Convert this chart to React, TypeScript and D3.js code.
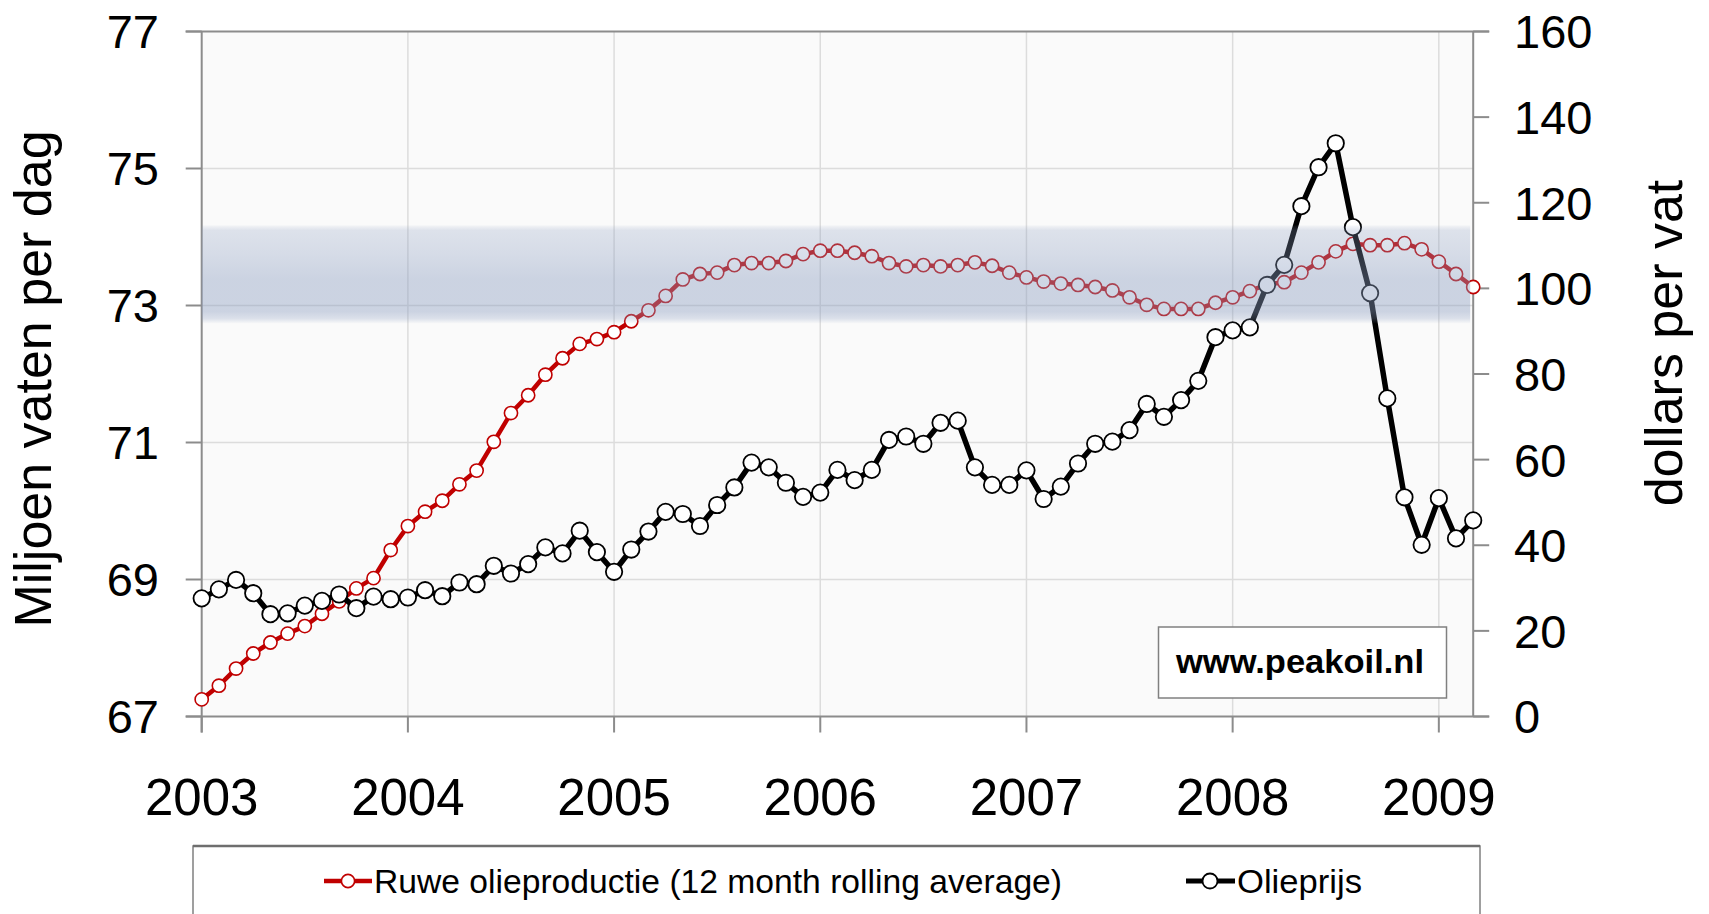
import React from "react";
import * as d3 from "d3";

// ---- data ----
const yearLabels = ["2003", "2004", "2005", "2006", "2007", "2008", "2009"];
const leftTicks = [67, 69, 71, 73, 75, 77];
const rightTicks = [0, 20, 40, 60, 80, 100, 120, 140, 160];

// Crude oil production, 12 month rolling average (million barrels/day), Jan 2003 .. Mar 2009
const production = [
  67.25, 67.45, 67.70, 67.92, 68.08, 68.21, 68.32, 68.50, 68.68, 68.87, 69.02, 69.43,
  69.78, 69.99, 70.15, 70.39, 70.59, 71.01, 71.43, 71.69, 71.99, 72.23, 72.44, 72.51,
  72.61, 72.77, 72.93, 73.14, 73.38, 73.46, 73.48, 73.59, 73.62, 73.62, 73.65, 73.75,
  73.80, 73.80, 73.77, 73.72, 73.62, 73.57, 73.59, 73.57, 73.59, 73.63, 73.58, 73.48,
  73.41, 73.35, 73.32, 73.30, 73.27, 73.22, 73.12, 73.01, 72.95, 72.95, 72.95, 73.04,
  73.12, 73.21, 73.31, 73.34, 73.48, 73.63, 73.79, 73.90, 73.88, 73.88, 73.91, 73.82,
  73.64, 73.46, 73.27,
];

// Oil price (dollars per barrel)
const price = [
  27.6, 29.7, 31.9, 28.8, 23.9, 24.1, 25.9, 27.0, 28.5, 25.3, 28.0, 27.4,
  27.8, 29.5, 28.1, 31.3, 30.9, 35.2, 33.4, 35.6, 39.5, 38.1, 43.4, 38.4,
  33.8, 39.0, 43.2, 47.8, 47.3, 44.5, 49.4, 53.5, 59.3, 58.2, 54.6, 51.3,
  52.3, 57.6, 55.2, 57.6, 64.6, 65.4, 63.7, 68.6, 69.1, 58.2, 54.1, 54.1,
  57.5, 50.8, 53.7, 59.1, 63.7, 64.2, 66.9, 73.0, 70.0, 73.9, 78.4, 88.6,
  90.2, 90.9, 100.8, 105.5, 119.2, 128.3, 133.9, 114.3, 98.9, 74.3, 51.2, 40.1,
  51.0, 41.6, 45.8,
];

const bandRange = [72.74, 74.17];
const seriesNames = ["Ruwe olieproductie (12 month rolling average)", "Olieprijs"];
const watermark = "www.peakoil.nl";

const W = 1709;
const H = 914;
const L = 201.7;
const R = 1473.2;
const T = 31.5;
const B = 716.5;

export default function App() {
  const x = d3.scaleLinear().domain([0, production.length - 1]).range([L, R]);
  const yL = d3.scaleLinear().domain([67, 77]).range([B, T]);
  const yR = d3.scaleLinear().domain([0, 160]).range([B, T]);

  const prodLine = d3
    .line<number>()
    .x((_, i) => x(i))
    .y((d) => yL(d))(production) as string;
  const priceLine = d3
    .line<number>()
    .x((_, i) => x(i))
    .y((d) => yR(d))(price) as string;

  const yearIdx = yearLabels.map((_, i) => i * 12);
  const font = "'Liberation Sans', Arial, sans-serif";
  const red = "#c00000";

  return (
    <svg
      width={W}
      height={H}
      style={{ position: "absolute", left: 0, top: 0, background: "#fff" }}
      fontFamily={font}
    >
      <defs>
        <linearGradient id="band" x1="0" y1="0" x2="0" y2="1">
          <stop offset="0%" stopColor="#8b9dc0" stopOpacity={0.06} />
          <stop offset="5%" stopColor="#8b9dc0" stopOpacity={0.26} />
          <stop offset="30%" stopColor="#8b9dc0" stopOpacity={0.33} />
          <stop offset="55%" stopColor="#8b9dc0" stopOpacity={0.42} />
          <stop offset="88%" stopColor="#8b9dc0" stopOpacity={0.42} />
          <stop offset="95%" stopColor="#8b9dc0" stopOpacity={0.28} />
          <stop offset="100%" stopColor="#8b9dc0" stopOpacity={0.03} />
        </linearGradient>
      </defs>
      <rect x={0} y={0} width={W} height={H} fill="#fff" />
      {/* plot area */}
      <rect x={L} y={T} width={R - L} height={B - T} fill="#fafafa" />
      {/* horizontal gridlines */}
      {leftTicks.slice(1, -1).map((t) => (
        <line key={"hg" + t} x1={L} x2={R} y1={yL(t)} y2={yL(t)} stroke="#dcdcdc" strokeWidth={1.5} />
      ))}
      {/* vertical gridlines */}
      {yearIdx.slice(1).map((i) => (
        <line key={"vg" + i} x1={x(i)} x2={x(i)} y1={T} y2={B} stroke="#dcdcdc" strokeWidth={1.5} />
      ))}
      {/* top border */}
      <line x1={L - 16} x2={R + 16} y1={T} y2={T} stroke="#8c8c8c" strokeWidth={2} />
      {/* axes */}
      <line x1={L} x2={L} y1={T} y2={B + 16} stroke="#8c8c8c" strokeWidth={2} />
      <line x1={R} x2={R} y1={T} y2={B} stroke="#8c8c8c" strokeWidth={2} />
      <line x1={L - 16} x2={R + 16} y1={B} y2={B} stroke="#8c8c8c" strokeWidth={2} />
      {leftTicks.map((t) => (
        <line key={"lt" + t} x1={L - 16} x2={L} y1={yL(t)} y2={yL(t)} stroke="#8c8c8c" strokeWidth={2} />
      ))}
      {rightTicks.map((t) => (
        <line key={"rt" + t} x1={R} x2={R + 16} y1={yR(t)} y2={yR(t)} stroke="#8c8c8c" strokeWidth={2} />
      ))}
      {yearIdx.map((i) => (
        <line key={"xt" + i} x1={x(i)} x2={x(i)} y1={B} y2={B + 16} stroke="#8c8c8c" strokeWidth={2} />
      ))}

      {/* production series */}
      <path d={prodLine} fill="none" stroke={red} strokeWidth={4.5} strokeLinejoin="round" />
      {production.map((d, i) => (
        <circle key={"p" + i} cx={x(i)} cy={yL(d)} r={6.6} fill="#fff" stroke={red} strokeWidth={1.6} />
      ))}
      {/* price series */}
      <path d={priceLine} fill="none" stroke="#000" strokeWidth={5.5} strokeLinejoin="round" />
      {price.map((d, i) => (
        <circle key={"c" + i} cx={x(i)} cy={yR(d)} r={8.2} fill="#fff" stroke="#000" strokeWidth={1.8} />
      ))}

      {/* band overlay */}
      <rect
        x={L}
        y={yL(bandRange[1])}
        width={R - L - 3}
        height={yL(bandRange[0]) - yL(bandRange[1])}
        fill="url(#band)"
      />

      {/* watermark */}
      <rect x={1158.5} y={627} width={288} height={71} fill="#fff" stroke="#808080" strokeWidth={1.5} />
      <text x={1176} y={673} fontSize={33} fontWeight="bold" fill="#000" textLength={248} lengthAdjust="spacingAndGlyphs">
        {watermark}
      </text>

      {/* tick labels */}
      {leftTicks.map((t) => (
        <text key={"ll" + t} x={159} y={yL(t)} dy="0.36em" textAnchor="end" fontSize={47} fill="#000">
          {t}
        </text>
      ))}
      {rightTicks.map((t) => (
        <text key={"rl" + t} x={1514} y={yR(t)} dy="0.36em" textAnchor="start" fontSize={47} fill="#000">
          {t}
        </text>
      ))}
      {yearLabels.map((lab, k) => (
        <text key={"yl" + lab} x={x(yearIdx[k])} y={815} textAnchor="middle" fontSize={51} fill="#000">
          {lab}
        </text>
      ))}

      {/* axis titles */}
      <text transform="translate(51,379) rotate(-90)" textAnchor="middle" fontSize={52} fill="#000">
        Miljoen vaten per dag
      </text>
      <text transform="translate(1682,343) rotate(-90)" textAnchor="middle" fontSize={52} fill="#000">
        dollars per vat
      </text>

      {/* legend */}
      <rect x={193} y={846} width={1287} height={90} fill="#fff" stroke="#808080" strokeWidth={1.5} />
      <line x1={193} x2={1480} y1={846} y2={846} stroke="#6e6e6e" strokeWidth={2.5} />
      <line x1={324} x2={372} y1={881} y2={881} stroke={red} strokeWidth={4.5} />
      <circle cx={348} cy={881} r={6.6} fill="#fff" stroke={red} strokeWidth={1.6} />
      <text x={374} y={881} dy="0.36em" fontSize={33.5} fill="#000" textLength={688} lengthAdjust="spacingAndGlyphs">
        {seriesNames[0]}
      </text>
      <line x1={1186} x2={1235} y1={881} y2={881} stroke="#000" strokeWidth={5} />
      <circle cx={1210} cy={881} r={7.5} fill="#fff" stroke="#000" strokeWidth={1.8} />
      <text x={1237} y={881} dy="0.36em" fontSize={33.5} fill="#000" textLength={125} lengthAdjust="spacingAndGlyphs">
        {seriesNames[1]}
      </text>
    </svg>
  );
}
